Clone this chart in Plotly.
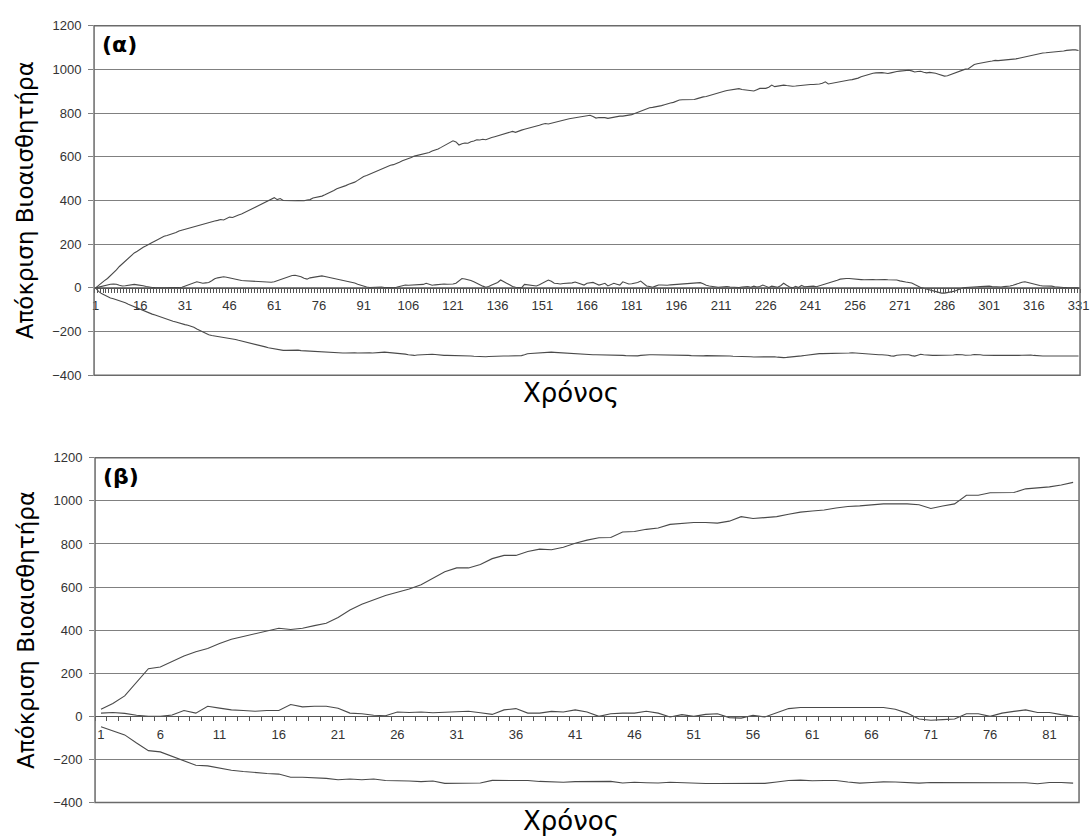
import plotly.graph_objects as go

# ---------------- panel (α): 331 time steps ----------------
alpha_upper = [
    0, 12, 22, 33, 43, 55, 68, 82, 98, 110,
    122, 134, 150, 160, 168, 178, 186, 193, 202, 208,
    215, 222, 231, 236, 240, 244, 248, 253, 260, 264,
    268, 271, 276, 280, 284, 289, 292, 295, 300, 303,
    306, 309, 313, 311, 318, 324, 322, 329, 334, 338,
    345, 350, 358, 366, 374, 381, 385, 392, 400, 406,
    413, 404, 409, 400, 399, 400, 399, 399, 400, 399,
    399, 402, 404, 411, 413, 416, 420, 426, 432, 440,
    446, 454, 458, 463, 468, 474, 478, 484, 492, 500,
    510, 514, 520, 526, 534, 540, 546, 552, 556, 561,
    564, 568, 575, 582, 586, 592, 597, 603, 606, 610,
    613, 615, 620, 626, 630, 636, 643, 650, 660, 665,
    673, 668, 654, 660, 663, 662, 669, 672, 678, 677,
    680, 678, 684, 688, 692, 696, 700, 706, 709, 714,
    716, 712, 718, 722, 726, 729, 733, 736, 741, 744,
    749, 752, 750, 754, 758, 761, 764, 768, 771, 774,
    776, 779, 781, 784, 786, 788, 790, 784, 777, 780,
    781, 779, 776, 779, 782, 784, 786, 786, 788, 790,
    793, 798, 803, 810, 816, 821, 824, 826, 828, 831,
    834, 838, 843, 846, 849, 856, 860, 861, 861, 861,
    861, 862, 866, 871, 874, 876, 880, 886, 890, 895,
    898, 900, 903, 906, 909, 911, 912, 908, 906, 905,
    903, 901, 907, 913, 913, 913, 918, 928, 921, 924,
    926, 928, 926, 924, 923, 924, 926, 928, 929, 931,
    931, 931, 931, 933, 936, 943, 933, 936, 939, 941,
    944, 946, 948, 951, 953, 955, 960, 966, 970, 976,
    979, 982, 984, 986, 985, 983, 981, 984, 988, 990,
    992, 993, 995, 996, 993, 988, 990, 991, 987, 984,
    986, 985, 982, 978, 974, 969, 971, 976, 982, 988,
    993, 999, 1001, 1003, 1012, 1022, 1026, 1029, 1033, 1034,
    1036, 1038, 1041, 1040, 1041, 1043, 1042, 1044, 1046, 1048,
    1051, 1054, 1058, 1061, 1065, 1069, 1071, 1073, 1075, 1076,
    1077, 1079, 1082, 1083, 1083, 1084, 1087, 1089, 1089, 1089,
    1086,
]

alpha_middle = [
    0, 4, 8, 12, 15, 17, 18, 17, 12, 9,
    10, 12, 15, 16, 14, 13, 10, 6, 3, 2,
    1, 0, 0, 0, 0, 1, 0, 0, 1, 3,
    8, 15, 21, 25, 28, 25, 21, 23, 25, 33,
    42, 46, 50, 51, 49, 46, 42, 38, 36, 34,
    33, 32, 30, 29, 28, 27, 27, 26, 25, 26,
    28, 33, 39, 43, 49, 54, 57, 58, 55, 51,
    44, 40, 46, 48, 51, 54, 55, 52, 49, 46,
    44, 41, 38, 36, 33, 29, 25, 22, 17, 12,
    6, 4, 2, 3, 5, 6, 4, 2, 1, 0,
    1, 3, 7, 12, 13, 12, 13, 14, 12, 13,
    16, 21, 17, 12, 14, 16, 17, 18, 17, 16,
    18, 21, 30, 43, 41, 39, 34, 28, 21, 13,
    8, 3, 6, 13, 20, 25, 36, 30, 21, 14,
    6, 3, 0, 0, 16, 15, 13, 11, 9, 14,
    21, 28, 36, 30, 21, 20, 18, 20, 21, 21,
    23, 27, 22, 17, 13, 21, 23, 25, 19, 13,
    17, 21, 9, 15, 21, 17, 13, 28, 22, 18,
    19, 21, 25, 31, 20, 9, 6, 3, 8, 13,
    13, 12, 12, 14, 15, 16, 16, 17, 18, 18,
    20, 21, 22, 24, 19, 12, 9, 6, 5, 3,
    4, 6, 6, 4, 3, 2, 2, 4, 6, 6,
    3, 8, 4, 6, 13, 9, 2, 8, 5, 3,
    10, 21, 12, 4, 0, 7, 2, 11, 5, 6,
    6, 8, 5, 9, 12, 17, 21, 24, 28, 35,
    40, 43, 43, 43, 41, 39, 38, 38, 37, 38,
    39, 38, 37, 38, 39, 38, 37, 36, 38, 36,
    32, 28, 27, 25, 22, 15, 8, 2, -2, -6,
    -10, -14, -17, -20, -24, -24, -22, -20, -16, -12,
    -5, -1, 2, 2, 3, 4, 5, 6, 7, 9,
    8, 6, 5, 3, 4, 6, 6, 9, 12, 15,
    21, 26, 28, 25, 21, 17, 13, 11, 9, 9,
    9, 8, 5, 3, 2, 2, 1, 0, 0, 0,
    0,
]

alpha_lower = [
    0, -16, -26, -33, -40, -46, -50, -54, -58, -62,
    -68, -75, -81, -87, -93, -99, -104, -110, -115, -120,
    -124, -129, -133, -138, -143, -150, -153, -156, -161, -165,
    -168, -171, -174, -180, -188, -195, -201, -207, -214, -218,
    -220, -222, -223, -225, -228, -231, -233, -236, -240, -243,
    -247, -250, -252, -256, -260, -262, -266, -270, -274, -277,
    -279, -282, -284, -286, -286, -285, -284, -283, -285, -287,
    -288, -288, -290, -291, -292, -293, -294, -294, -296, -297,
    -298, -298, -299, -298, -298, -297, -297, -297, -298, -297,
    -297, -296, -297, -298, -298, -297, -295, -294, -295, -296,
    -297, -298, -299, -301, -303, -306, -309, -309, -307, -306,
    -306, -305, -305, -304, -305, -307, -308, -309, -309, -309,
    -309, -309, -309, -310, -310, -311, -312, -313, -314, -316,
    -316, -315, -314, -313, -312, -312, -312, -312, -312, -312,
    -312, -312, -312, -310, -306, -301, -300, -299, -297, -296,
    -295, -294, -294, -294, -295, -296, -297, -298, -299, -300,
    -301, -302, -303, -305, -306, -305, -305, -306, -306, -306,
    -306, -306, -306, -306, -307, -307, -308, -309, -310, -311,
    -312, -312, -311, -309, -307, -306, -306, -306, -306, -306,
    -306, -306, -306, -306, -306, -307, -308, -308, -309, -309,
    -310, -311, -312, -312, -311, -310, -310, -309, -309, -310,
    -311, -312, -312, -312, -313, -313, -313, -313, -312, -313,
    -315, -316, -316, -316, -315, -315, -314, -313, -315, -317,
    -319, -319, -318, -317, -316, -316, -314, -311, -309, -307,
    -305, -302, -301, -301, -301, -301, -301, -301, -301, -301,
    -301, -300, -299, -298, -297, -298, -300, -301, -303, -305,
    -306, -306, -306, -306, -306, -306, -308, -311, -312, -308,
    -306, -306, -306, -306, -310, -312, -308, -304, -306, -308,
    -309, -309, -309, -309, -309, -309, -309, -309, -307, -305,
    -304, -306, -308, -309, -307, -305, -304, -306, -308, -309,
    -309, -309, -309, -309, -309, -310, -311, -312, -311, -310,
    -309, -308, -307, -306, -307, -309, -311, -312, -312, -312,
    -312, -311, -310, -309, -310, -311, -312, -312, -312, -312,
    -312,
]

# ---------------- panel (β): 83 time steps ----------------
beta_upper = [
    33, 60, 95, 160, 221, 229, 255, 280, 300, 315,
    338, 358, 371, 383, 394, 409, 403, 409, 421, 432,
    459, 494, 520, 542, 561, 576, 591, 611, 641, 671,
    689, 689, 705, 732, 747, 747, 765, 776, 773, 785,
    803, 818, 829, 830, 856, 858, 868, 874, 891, 897,
    900, 900, 897, 906, 927, 918, 921, 927, 938, 948,
    953, 958, 967, 974, 977, 983, 986, 986, 986, 982,
    965, 976, 986, 1026, 1026, 1038, 1038, 1039, 1056, 1059,
    1065, 1074, 1086,
]

beta_middle = [
    15, 18, 14, 5, 0, 0, 6, 27, 15, 47,
    38, 30, 27, 24, 27, 27, 55, 44, 47, 47,
    38, 15, 12, 5, 3, 20, 18, 20, 17, 20,
    20, 24, 17, 9, 30, 36, 15, 15, 23, 20,
    30, 20, 0, 12, 15, 15, 24, 15, -3, 8,
    0, 9, 12, -6, -8, 5, -3, 15, 36, 41,
    41, 41, 41, 41, 41, 41, 41, 33, 15, -12,
    -18, -15, -12, 12, 12, 0, 15, 23, 30, 18,
    18, 8, 0,
]

beta_lower = [
    -48, -68, -86, -124, -159, -165, -185, -205, -227, -230,
    -241, -250, -256, -262, -265, -268, -283, -283, -285, -288,
    -294, -291, -294, -291, -298, -298, -300, -303, -300, -311,
    -311, -309, -309, -297, -297, -297, -298, -302, -303, -306,
    -303, -302, -302, -302, -309, -306, -308, -309, -306, -309,
    -312, -312, -312, -312, -312, -312, -311, -305, -298, -296,
    -299, -298, -298, -305, -310, -307, -304, -305, -308, -310,
    -307, -307, -307, -307, -307, -310, -310, -308, -308, -313,
    -307, -307, -310,
]

time_alpha = list(range(1, len(alpha_upper) + 1))
time_beta = list(range(1, len(beta_upper) + 1))
labels_alpha = list(range(1, len(alpha_upper) + 1, 15))
labels_beta = list(range(1, len(beta_upper) + 1, 5))

y_ticks = [-400, -200, 0, 200, 400, 600, 800, 1000, 1200]
y_title = "Απόκριση Βιοαισθητήρα"
x_title = "Χρόνος"
panel_labels = ["(α)", "(β)"]

W, H = 1092, 840
LINE = "#4a4a4a"
GRID = "#808080"
FRAME = "#6a6a6a"
TICKFONT = dict(family="Liberation Sans, Arial", size=13, color="#333333")
TITLEFONT = "DejaVu Sans"

# plot-area boxes in pixels: (left, right, top, bottom)
boxes = [(93, 1089, 19, 375), (94, 1088, 459, 810)]
ymin, ymax = -400, 1200

fig = go.Figure()

panels = [
    (time_alpha, [alpha_upper, alpha_middle, alpha_lower], labels_alpha),
    (time_beta, [beta_upper, beta_middle, beta_lower], labels_beta),
]

for i, (tx, series, tlabels) in enumerate(panels):
    n = "" if i == 0 else str(i + 1)
    left, right, top, bottom = boxes[i]
    xdom = [left / W, right / W]
    ydom = [1 - bottom / H, 1 - top / H]
    zero_pos = ydom[0] + (0 - ymin) / (ymax - ymin) * (ydom[1] - ydom[0])

    for s in series:
        fig.add_trace(go.Scatter(
            x=tx, y=s, mode="lines",
            line=dict(color=LINE, width=1.1),
            xaxis="x" + n, yaxis="y" + n, showlegend=False,
            hoverinfo="skip",
        ))

    fig.update_layout(**{
        "xaxis" + n: dict(
            domain=xdom, range=[0.5, len(tx) + 0.5],
            anchor="free", position=zero_pos,
            showgrid=False, zeroline=False,
            showline=True, linecolor="#555555", linewidth=1,
            tickmode="array", tickvals=tlabels,
            ticktext=[str(v) for v in tlabels],
            ticks="outside", ticklen=6, tickcolor="rgba(0,0,0,0)",
            ticklabeloverflow="allow",
            tickfont=TICKFONT,
            minor=dict(ticks="outside", ticklen=4, tickcolor="#555555",
                       tickwidth=1, tick0=0.5, dtick=1, showgrid=False),
        ),
        "yaxis" + n: dict(
            domain=ydom, range=[ymin, ymax],
            anchor="x" + n,
            tickmode="array", tickvals=y_ticks,
            showgrid=True, gridcolor=GRID, gridwidth=1,
            zeroline=False, showline=False,
            ticks="outside", ticklen=5, tickcolor=GRID,
            ticklabelstandoff=4,
            tickfont=TICKFONT,
        ),
    })

    # plot-area frame
    fig.add_shape(type="rect", xref="x" + n + " domain", yref="y" + n + " domain",
                  x0=0, x1=1, y0=0, y1=1, line=dict(color=FRAME, width=1.5),
                  layer="above")

    # rotated y-axis title
    fig.add_annotation(
        text=y_title, xref="paper", yref="paper",
        x=24 / W, y=1 - ((top + bottom) / 2) / H,
        textangle=-90, showarrow=False,
        font=dict(family=TITLEFONT, size=23, color="#000000"),
        xanchor="center", yanchor="middle",
    )

    # panel label
    fig.add_annotation(
        text="<b>" + panel_labels[i] + "</b>", xref="paper", yref="paper",
        x=(left + 6) / W, y=1 - (top + 19) / H,
        showarrow=False, xanchor="left", yanchor="middle",
        font=dict(family=TITLEFONT, size=22, color="#000000"),
    )

# x-axis titles
for yc in (393, 829):
    fig.add_annotation(
        text=x_title, xref="paper", yref="paper",
        x=575 / W, y=1 - yc / H, showarrow=False,
        xanchor="center", yanchor="middle",
        font=dict(family=TITLEFONT, size=26, color="#000000"),
    )

fig.update_layout(
    width=W, height=H,
    margin=dict(l=0, r=0, t=0, b=0),
    paper_bgcolor="white", plot_bgcolor="white",
)

fig.write_html("out.html")
